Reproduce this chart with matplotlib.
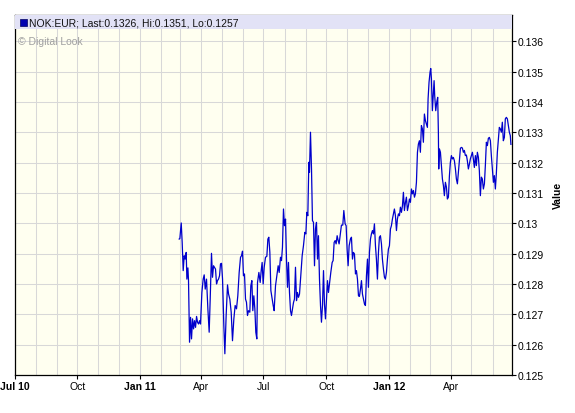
import matplotlib
matplotlib.use("Agg")
import matplotlib.pyplot as plt
import matplotlib.dates as mdates
from matplotlib.patches import Rectangle
import pandas as pd

plt.rcParams['font.family'] = ['Liberation Sans', 'DejaVu Sans']

# ---------------- data ----------------
start_date = pd.Timestamp('2010-07-01')
end_date = pd.Timestamp('2012-06-29')

day_offsets = [
    241.4, 242.4, 244.4, 245.8, 247.3, 248.8, 250.2, 251.7, 252.7, 254.2, 255.1, 256.6, 258.1, 259.5,
    261.0, 262.5, 263.9, 265.4, 266.9, 268.3, 269.8, 271.3, 272.7, 274.7, 276.6, 278.1, 279.6, 281.5,
    283.5, 285.4, 286.9, 288.8, 290.3, 291.8, 293.2, 294.7, 296.2, 297.6, 299.1, 300.6, 302.0, 303.5,
    305.0, 306.9, 308.4, 310.3, 312.3, 313.8, 315.7, 317.7, 319.6, 321.6, 323.5, 325.5, 327.4, 329.4,
    331.4, 332.8, 334.3, 335.7, 337.2, 338.7, 340.1, 341.6, 343.1, 345.0, 346.5, 348.0, 349.4, 350.9,
    352.4, 353.8, 355.3,
    356.3, 358.3, 360.2, 361.7, 363.1, 364.6, 366.1, 368.0, 370.0, 371.5, 372.9, 374.4, 375.9, 377.8,
    379.3, 380.7, 382.7, 384.6, 386.6, 388.1, 390.0, 391.5, 392.9, 394.4, 395.9, 397.4, 398.8, 400.3,
    401.7, 403.2, 404.7, 406.1, 407.6, 409.1, 410.5, 412.0, 413.5, 414.9, 416.4, 417.9, 419.8, 421.8,
    423.7, 425.7, 427.2, 428.6, 430.1, 431.6, 432.5, 434.0, 435.5, 436.9, 438.4, 439.9, 441.3, 442.8,
    444.3, 445.7, 447.2, 448.7, 450.1, 451.6, 453.1, 454.5, 456.0, 457.5, 458.9, 460.4, 461.8, 463.8,
    465.8, 467.2, 468.7, 470.2, 471.6, 473.1, 474.6, 476.0,
    479.4, 481.4, 482.9, 484.8, 486.3, 487.7, 489.2, 490.7, 492.6, 494.1, 495.6, 497.0, 498.5, 500.0,
    501.4, 502.9, 504.4, 505.8, 507.3, 508.8, 510.2, 511.7, 513.2, 514.6, 516.1, 517.6, 519.0, 520.5,
    522.0, 523.4, 524.9, 526.3, 527.8, 529.3, 530.7, 532.2, 533.7, 535.1, 536.6, 538.1, 539.5, 541.0,
    542.5, 543.9, 545.4, 546.9, 548.3, 549.8, 551.3, 552.7, 554.2, 555.7, 557.1, 558.6, 560.1, 561.5,
    563.0, 564.5, 565.9, 567.4, 568.9, 570.3, 571.8, 573.3, 574.7, 576.2, 577.7, 579.1, 580.6, 582.1,
    583.5, 585.0, 586.5, 587.9, 589.4, 590.9, 592.3, 593.8, 595.2, 596.7, 598.2, 599.6, 601.1, 602.6,
    604.0, 605.5,
    606.5, 607.9, 609.4, 610.4, 611.4, 612.8, 614.3, 615.3, 616.2, 617.7, 619.2, 620.6, 621.6, 622.1,
    623.1, 624.6, 626.0, 627.5, 629.0, 630.4, 631.9, 633.4, 634.8, 636.3, 637.8, 639.2, 640.7, 642.2,
    643.6, 645.1, 646.6, 648.0, 649.5, 651.0, 652.4, 653.9, 655.3, 656.8, 658.3, 659.7, 661.2, 662.7,
    664.1, 665.6, 667.1, 668.5, 670.0, 671.5, 672.9, 674.4, 675.9, 677.3, 678.8, 680.3, 681.7, 683.2,
    684.7, 686.1, 687.6, 689.1, 690.5, 692.0, 693.5, 694.9, 696.4, 697.9, 699.3, 700.8, 702.3, 703.7,
    705.2, 706.6, 708.1, 709.6, 711.0, 712.5, 714.0, 715.4, 716.9, 718.4, 719.8, 721.3, 722.8, 724.2,
    725.7, 727.1, 728.0,
]

values = [
    0.12948, 0.12950, 0.13001, 0.12937, 0.12844, 0.12893, 0.12882, 0.12904, 0.12816, 0.12853, 0.12811, 0.12608, 0.12690, 0.12619,
    0.12685, 0.12652, 0.12679, 0.12657, 0.12693, 0.12674, 0.12668, 0.12679, 0.12668, 0.12772, 0.12816, 0.12830, 0.12783, 0.12816,
    0.12718, 0.12641, 0.12750, 0.12901, 0.12822, 0.12860, 0.12855, 0.12849, 0.12800, 0.12811, 0.12816, 0.12827, 0.12866, 0.12868,
    0.12816, 0.12663, 0.12570, 0.12696, 0.12797, 0.12767, 0.12750, 0.12707, 0.12613, 0.12685, 0.12729, 0.12718, 0.12761, 0.12838,
    0.12888, 0.12893, 0.12908, 0.12827, 0.12833, 0.12750, 0.12740, 0.12696, 0.12712, 0.12707, 0.12794, 0.12811, 0.12712, 0.12761,
    0.12718, 0.12641, 0.12619,
    0.12805, 0.12838, 0.12805, 0.12844, 0.12871, 0.12800, 0.12855, 0.12888, 0.12891, 0.12948, 0.12954, 0.12904, 0.12778, 0.12750,
    0.12729, 0.12712, 0.12794, 0.12827, 0.12860, 0.12838, 0.12888, 0.12877, 0.12921, 0.13047, 0.12992, 0.13014, 0.12882, 0.12789,
    0.12871, 0.12772, 0.12712, 0.12696, 0.12718, 0.12739, 0.12750, 0.12855, 0.12745, 0.12772, 0.12756, 0.12767, 0.12827, 0.12893,
    0.12926, 0.12970, 0.12965, 0.13036, 0.13025, 0.13201, 0.13168, 0.13300, 0.13179, 0.13009, 0.13003, 0.12860, 0.12981, 0.13003,
    0.12882, 0.12959, 0.12816, 0.12729, 0.12674, 0.12729, 0.12844, 0.12734, 0.12685, 0.12750, 0.12811, 0.12772, 0.12800, 0.12838,
    0.12871, 0.12877, 0.12937, 0.12943, 0.12932, 0.12959, 0.12943, 0.12932,
    0.12994, 0.12994, 0.13042, 0.12998, 0.12992, 0.12915, 0.12860, 0.12926, 0.12948, 0.12954, 0.12882, 0.12904, 0.12899, 0.12833,
    0.12844, 0.12816, 0.12761, 0.12759, 0.12783, 0.12811, 0.12767, 0.12750, 0.12734, 0.12729, 0.12827, 0.12882, 0.12789, 0.12904,
    0.12948, 0.12965, 0.12976, 0.12965, 0.12998, 0.12926, 0.12882, 0.12816, 0.12904, 0.12954, 0.12959, 0.12932, 0.12882, 0.12849,
    0.12822, 0.12816, 0.12838, 0.12882, 0.12915, 0.12926, 0.12981, 0.12992, 0.13014, 0.13031, 0.13047, 0.13025, 0.12976, 0.13014,
    0.13031, 0.13025, 0.13053, 0.13036, 0.13058, 0.13102, 0.13042, 0.13069, 0.13086, 0.13042, 0.13058, 0.13080, 0.13069, 0.13113,
    0.13097, 0.13108, 0.13086, 0.13097, 0.13135, 0.13234, 0.13261, 0.13272, 0.13234, 0.13322, 0.13311, 0.13267, 0.13360, 0.13338,
    0.13327, 0.13316,
    0.13410, 0.13465, 0.13498, 0.13510, 0.13476, 0.13371, 0.13432, 0.13470, 0.13421, 0.13371, 0.13399, 0.13415, 0.13300, 0.13179,
    0.13245, 0.13234, 0.13190, 0.13146, 0.13124, 0.13091, 0.13135, 0.13119, 0.13080, 0.13086, 0.13157, 0.13201, 0.13223, 0.13212,
    0.13217, 0.13206, 0.13179, 0.13146, 0.13130, 0.13168, 0.13206, 0.13247, 0.13250, 0.13248, 0.13234, 0.13240, 0.13223, 0.13225,
    0.13206, 0.13179, 0.13195, 0.13212, 0.13223, 0.13234, 0.13212, 0.13184, 0.13223, 0.13190, 0.13234, 0.13217, 0.13173, 0.13091,
    0.13152, 0.13146, 0.13113, 0.13130, 0.13190, 0.13267, 0.13256, 0.13280, 0.13283, 0.13272, 0.13223, 0.13179, 0.13135, 0.13157,
    0.13113, 0.13163, 0.13234, 0.13278, 0.13316, 0.13311, 0.13300, 0.13333, 0.13272, 0.13283, 0.13344, 0.13349, 0.13344, 0.13322,
    0.13300, 0.13289, 0.13260,
]

x_tick_dates = ['2010-07-01', '2010-10-01', '2011-01-01', '2011-04-01',
                '2011-07-01', '2011-10-01', '2012-01-01', '2012-04-01']
x_tick_labels = ['Jul 10', 'Oct', 'Jan 11', 'Apr', 'Jul', 'Oct', 'Jan 12', 'Apr']
y_ticks = [0.125, 0.126, 0.127, 0.128, 0.129, 0.130, 0.131, 0.132, 0.133, 0.134, 0.135, 0.136]
y_tick_labels = ['0.125', '0.126', '0.127', '0.128', '0.129', '0.13', '0.131', '0.132',
                 '0.133', '0.134', '0.135', '0.136']
header_text = 'NOK:EUR; Last:0.1326, Hi:0.1351, Lo:0.1257'
y_min, y_max = 0.125, 0.13688

# ---------------- figure ----------------
dates = start_date + pd.to_timedelta(day_offsets, unit='D')

fig = plt.figure(figsize=(5.75, 4.14), dpi=100, facecolor='white')
ax = fig.add_axes([14.6 / 575, 1 - 376 / 414, (511.6 - 14.6) / 575, (376 - 15.5) / 414])
ax.set_facecolor('#FFFFF0')

ax.plot(dates, values, color='#0000CC', lw=0.9, zorder=3)

ax.set_xlim(start_date, end_date)
ax.set_ylim(y_min, y_max)

# grid
ax.xaxis.set_minor_locator(mdates.MonthLocator())
ax.set_xticks(pd.to_datetime(x_tick_dates))
ax.set_xticklabels(x_tick_labels)
for lbl, txt in zip(ax.get_xticklabels(), x_tick_labels):
    if any(ch.isdigit() for ch in txt):
        lbl.set_fontweight('bold')
ax.grid(True, which='both', axis='x', color='#D8D8D8', lw=0.75, zorder=0)
ax.set_yticks(y_ticks)
ax.set_yticklabels(y_tick_labels)
ax.grid(True, which='major', axis='y', color='#D8D8D8', lw=0.75, zorder=0)
ax.set_axisbelow(True)

ax.tick_params(axis='x', which='major', direction='out', length=3, width=0.8,
               labelsize=7.5, pad=1.5, color='black')
ax.tick_params(axis='x', which='minor', length=0)
ax.yaxis.tick_right()
ax.yaxis.set_label_position('right')
ax.tick_params(axis='y', which='major', direction='out', length=3, width=0.8,
               labelsize=7.5, pad=1.5, color='black', left=False, right=True)
ax.set_ylabel('Value', fontsize=7.5, fontweight='bold', labelpad=6)

for sp in ax.spines.values():
    sp.set_color('black')
    sp.set_linewidth(0.9)

# header band
hdr_h = 14.5 / 360.5
ax.add_patch(Rectangle((0, 1 - hdr_h), 1, hdr_h, transform=ax.transAxes,
                       facecolor='#E2E2F6', edgecolor='none', zorder=4, clip_on=False))
ax.add_patch(Rectangle((5.6 / 497, 1 - 11.5 / 360.5), 6.5 / 497, 7 / 360.5, transform=ax.transAxes,
                       facecolor='#0000B0', edgecolor='#000060', lw=0.5, zorder=5))
ax.text(14.5 / 497, 1 - 7.8 / 360.5, header_text, transform=ax.transAxes,
        fontsize=7.5, color='#111111', va='center', ha='left', zorder=6)
ax.text(3.5 / 497, 1 - 26.5 / 360.5, '\u00a9 Digital Look', transform=ax.transAxes,
        fontsize=7.5, color='#A0A0A0', va='center', ha='left', zorder=6)

fig.savefig('out.png', dpi=100, facecolor='white')
